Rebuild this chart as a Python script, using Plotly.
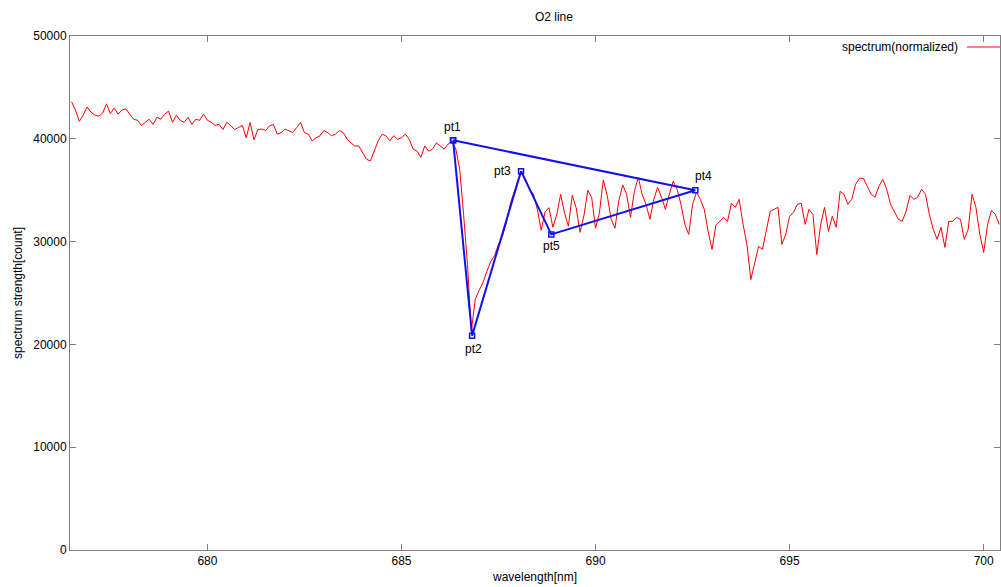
import numpy as np
import plotly.graph_objects as go

# spectrum values (counts), sampled every 0.1 nm starting at 676.5 nm
spec_a = [43600, 42800, 41700, 42300, 43100, 42600, 42300, 42200, 42500, 43400,
          42450, 43000, 42400, 42800, 42900, 42400, 41900, 41800, 41300, 41600,
          41900, 41400, 42100, 41900, 42400, 42700, 41600, 42300, 41800, 41600,
          42100, 41400, 41900, 41800, 42400, 41800, 41600, 41300, 41400, 40900,
          41600, 41300, 40900, 41100, 41300, 40100, 41600, 39900, 40900, 40950,
          40800, 41260, 41400, 40450, 40600, 40950, 40800, 40600, 41100, 41600,
          40600, 40450, 39800, 40100, 40300, 40800, 40600, 40300, 40450, 40800,
          40600, 39960, 39600, 39300, 39300, 38670, 38000, 37850, 38800, 39800,
          40450, 40300, 39800, 40300, 39960, 40100, 40450, 39960, 39000, 38800,
          38200, 39300, 38800, 39000, 39600, 39300, 39000, 39480, 39800]
spec_b = [38990, 37040, 32650, 27780, 21300, 24370, 25250, 26020, 27100, 28070,
          28660, 29730, 30510, 31780, 33630, 34890, 35970, 36750]
spec_c = [36060, 35090, 34600, 33140, 31100, 32900, 33300, 31400, 32600, 34600,
          32800, 31500, 34500, 33300, 30900, 32500, 35000, 34300, 31300, 32800,
          36000, 34500, 32200, 31300, 34000, 35500, 34600]
spec_d = [32360, 34890, 36260, 34600, 33630, 32170, 34110, 35280, 34310, 33140,
          34600, 35870, 35090, 33630, 31680, 30700, 33630, 34800, 34110, 33140,
          31000, 29240, 31580, 31970, 32360, 31970, 33720, 33330, 34110, 31680,
          29730, 26300, 27780, 29530, 29240, 31190, 32940, 33140, 33330, 29730,
          30700, 32460, 32850, 33630, 33720, 31680, 33140, 32650, 28750, 31680,
          33330, 31000, 32460, 31390, 34890, 34600, 33630, 34110, 35580, 36160,
          36160, 35380, 34600, 34310, 35380, 36060, 35090, 33630, 32940, 32170,
          31970, 32940, 34500, 34110, 34310, 35090, 34600, 32650, 31190, 30220,
          31390, 29440, 31970, 31970, 32360, 32170, 30220, 31190, 34600, 33330,
          30700, 28950, 31680, 33040, 32650, 31680]

spectrum = spec_a + spec_b + spec_c + spec_d
wl_start = 676.5
wl_step = 0.1
wavelength = np.round(wl_start + wl_step * np.arange(len(spectrum)), 2)

# marked points (closed polygon pt1-pt2-pt3-pt5-pt4-pt1)
pt_labels = ["pt1", "pt2", "pt3", "pt5", "pt4"]
pt_x = [686.33, 686.82, 688.08, 688.86, 692.57]
pt_y = [39850, 20850, 36850, 30700, 35000]
# label offsets in pixels (style only)
pt_dx = [-1, 1, -19, 0, 8]
pt_dy = [13, -13, 0, -12, 14]

x_ticks = [680, 685, 690, 695, 700]
y_ticks = [0, 10000, 20000, 30000, 40000, 50000]

FONT = "Liberation Sans, Arial, Helvetica, sans-serif"
AXIS_COL = "#808080"
BLUE = "#1010f0"

fig = go.Figure()
fig.add_trace(go.Scatter(
    x=wavelength, y=spectrum, mode="lines",
    line=dict(color="#ff0000", width=1),
    name="spectrum(normalized)", showlegend=False,
))
fig.add_trace(go.Scatter(
    x=pt_x + pt_x[:1], y=pt_y + pt_y[:1], mode="lines+markers",
    line=dict(color=BLUE, width=2),
    marker=dict(symbol="square-open", size=5, color=BLUE, line=dict(width=1.5)),
    showlegend=False, hoverinfo="skip",
))

for lab, x, y, dx, dy in zip(pt_labels, pt_x, pt_y, pt_dx, pt_dy):
    fig.add_annotation(x=x, y=y, text=lab, showarrow=False, xshift=dx, yshift=dy,
                       font=dict(family=FONT, size=12, color="#000000"))

# gnuplot-style key: text then line sample at right
fig.add_annotation(xref="paper", yref="paper", x=0.957, y=0.9786, text="spectrum(normalized)",
                   showarrow=False, xanchor="right", yanchor="middle",
                   font=dict(family=FONT, size=12, color="#000000"))
fig.add_shape(type="line", xref="paper", yref="paper", x0=0.9645, x1=1.0, y0=0.9786, y1=0.9786,
              line=dict(color="#ff0000", width=1))

fig.update_layout(
    width=1001, height=587,
    margin=dict(l=70, r=1, t=36, b=37, autoexpand=False),
    paper_bgcolor="white", plot_bgcolor="white",
    font=dict(family=FONT, size=12, color="#000000"),
    title=dict(text="O2 line", x=0.5534, xanchor="center", y=0.971, yanchor="middle",
               font=dict(family=FONT, size=12)),
    showlegend=False,
)
fig.update_xaxes(
    range=[676.46, 700.42], tickvals=x_ticks, ticks="inside", ticklen=6,
    showline=True, linecolor=AXIS_COL, linewidth=1, mirror="ticks",
    tickcolor=AXIS_COL, showgrid=False, zeroline=False, automargin=False,
    title=dict(text="wavelength[nm]", standoff=5, font=dict(family=FONT, size=12)),
    tickfont=dict(family=FONT, size=12),
)
fig.update_yaxes(
    range=[0, 50000], tickvals=y_ticks, tickformat="d", ticks="inside", ticklen=6,
    showline=True, linecolor=AXIS_COL, linewidth=1, mirror="ticks",
    tickcolor=AXIS_COL, showgrid=False, zeroline=False, automargin=False,
    title=dict(text="spectrum strength[count]", standoff=8, font=dict(family=FONT, size=12)),
    tickfont=dict(family=FONT, size=12),
)

fig.write_html(
    "out.html",
    config={"displayModeBar": False},
    post_script="document.body.style.margin='0';document.body.style.padding='0';",
)
